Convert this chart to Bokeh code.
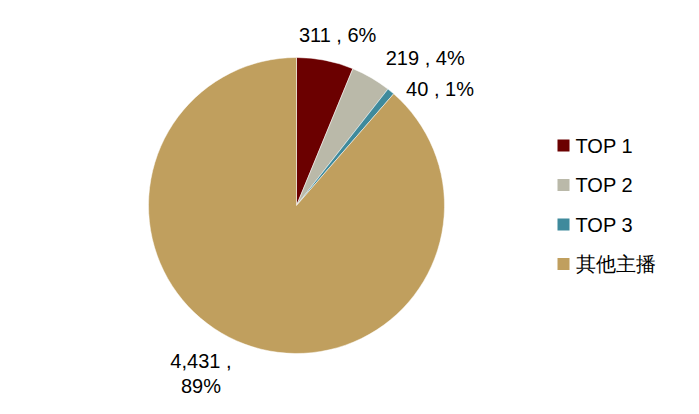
import math
from bokeh.plotting import figure
from bokeh.models import Range1d, ColumnDataSource
from bokeh.core.properties import value
from bokeh.embed import file_html
from bokeh.resources import INLINE

categories = ["TOP 1", "TOP 2", "TOP 3", "其他主播"]
values = [311, 219, 40, 4431]
percent_labels = ["6%", "4%", "1%", "89%"]
colors = ["#6B0000", "#BAB9A9", "#3F8A9C", "#C09F5E"]

W, H = 683, 398
p = figure(width=W, height=H, output_backend="svg", toolbar_location=None,
           x_range=Range1d(0, W), y_range=Range1d(0, H), min_border=0)
p.axis.visible = False
p.grid.visible = False
p.outline_line_color = None

cx, cy, r = 296, H - 205, 148
total = sum(values)
starts, ends, mids = [], [], []
cum = 0
for v in values:
    a0 = math.pi / 2 - 2 * math.pi * cum / total
    cum += v
    a1 = math.pi / 2 - 2 * math.pi * cum / total
    starts.append(a0); ends.append(a1); mids.append((a0 + a1) / 2)

src = ColumnDataSource(dict(start=starts, end=ends, color=colors))
p.wedge(x=cx, y=cy, radius=r, start_angle="start", end_angle="end",
        direction="clock", fill_color="color", line_color="white", line_width=0.5, source=src)

# data labels
label_r = [175, 196, 185, 193]
label_dang = [-0.042, -0.188, -0.197, -0.16]
font = value("Liberation Sans")
for i, v in enumerate(values):
    ang = mids[i] + label_dang[i]
    lx = cx + label_r[i] * math.cos(ang)
    ly = cy + label_r[i] * math.sin(ang)
    txt = f"{v:,} , {percent_labels[i]}"
    if i == 3:
        txt = f"{v:,} ,\n{percent_labels[i]}"
    p.text(x=[lx], y=[ly], text=[txt], text_font=font, text_font_size="20px",
           text_align="center", text_baseline="middle", text_color="#000000",
           text_line_height=1.15)

# legend
ly0 = H - 145
for i, c in enumerate(categories):
    yy = ly0 - i * 39.5
    p.rect(x=[563], y=[yy], width=12, height=12, fill_color=colors[i], line_color=None)
    p.text(x=[575], y=[yy], text=[c], text_font=font, text_font_size="20px",
           text_align="left", text_baseline="middle", text_color="#000000")

open("out.html", "w").write(file_html(p, INLINE))
